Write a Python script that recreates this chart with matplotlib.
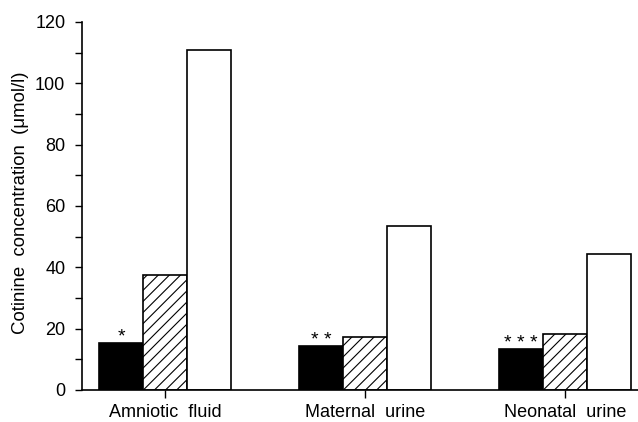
import matplotlib
matplotlib.use("Agg")
import matplotlib.pyplot as plt
import numpy as np

plt.rcParams['font.family'] = ['Liberation Sans', 'DejaVu Sans']
plt.rcParams['hatch.linewidth'] = 0.8

categories = ["Amniotic  fluid", "Maternal  urine", "Neonatal  urine"]
black_vals = [15.3, 14.3, 13.3]
hatched_vals = [37.5, 17.4, 18.3]
white_vals = [110.8, 53.5, 44.3]
stars = ["*", "* *", "* * *"]
yticks = [0, 20, 40, 60, 80, 100, 120]

fig = plt.figure(figsize=(6.38, 4.22), dpi=100)
ax = fig.add_axes([82/638, 1-390/422, 1-82/638, (390-22)/422])

x = np.arange(len(categories))
w = 0.22
lw = 1.2
ax.bar(x - w, black_vals, w, color='black', edgecolor='black', linewidth=lw)
ax.bar(x, hatched_vals, w, color='white', edgecolor='black', hatch='///', linewidth=lw)
ax.bar(x + w, white_vals, w, color='white', edgecolor='black', linewidth=lw)

for xi, v, s in zip(x, black_vals, stars):
    ax.text(xi - w, v + 0.4, s, ha='center', va='baseline', fontsize=14)

ax.set_xlim(-0.415, 2.365)
ax.set_ylim(0, 120)
ax.set_yticks(yticks)
ax.set_yticks(np.arange(10, 120, 20), minor=True)
ax.set_xticks(x)
ax.set_xticklabels(categories, fontsize=13)
ax.tick_params(axis='y', labelsize=13, direction='out', length=5, width=1.0, pad=7)
ax.tick_params(axis='y', which='minor', direction='out', length=5, width=1.0)
ax.tick_params(axis='x', direction='out', length=6, width=1.0, pad=4)
ax.spines['top'].set_visible(False)
ax.spines['right'].set_visible(False)
ax.spines['left'].set_linewidth(1.2)
ax.spines['bottom'].set_linewidth(1.2)
ax.set_ylabel("Cotinine  concentration  (μmol/l)", fontsize=13.4)
ax.yaxis.set_label_coords(-0.095, 0.51)

fig.savefig("out.png", dpi=100)
